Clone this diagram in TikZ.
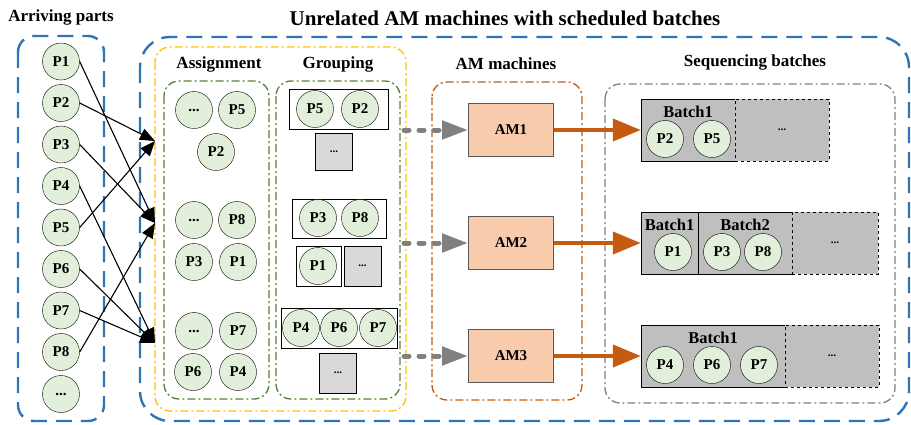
\documentclass[tikz,border=0pt]{standalone}
\usepackage{fontspec}
\setmainfont{Liberation Serif}
\usetikzlibrary{arrows.meta}
\definecolor{frameblue}{HTML}{2E75B6}
\definecolor{frameyellow}{HTML}{FFC000}
\definecolor{framegreen}{HTML}{548235}
\definecolor{frameorange}{HTML}{C55A11}
\definecolor{framegray}{HTML}{808080}
\definecolor{partfill}{HTML}{E2EFDA}
\definecolor{machinefill}{HTML}{F8CBAD}
\definecolor{batchfill}{HTML}{BFBFBF}
\definecolor{morefill}{HTML}{D9D9D9}
\tikzset{
  bluebox/.style={draw=frameblue,line width=2.4pt,dash pattern=on 16pt off 9pt,rounded corners=#1},
  dotbox/.style={draw=#1,line width=1.3pt,dash pattern=on 8pt off 3pt on 2pt off 3pt,rounded corners=15pt},
  part/.style={circle,draw,fill=partfill,minimum size=37pt,inner sep=0pt,font=\bfseries\fontsize{15}{15}\selectfont},
  morebox/.style={draw,fill=morefill,minimum size=37pt,inner sep=0pt,font=\bfseries\fontsize{11}{11}\selectfont},
  machine/.style={draw=black!65,line width=1pt,fill=machinefill,minimum width=85pt,minimum height=53pt,font=\bfseries\fontsize{15}{15}\selectfont},
  batchcell/.style={draw,fill=batchfill,minimum height=62pt,inner sep=0pt},
  batchmore/.style={batchcell,dashed,font=\bfseries\fontsize{11}{11}\selectfont},
  heading/.style={font=\bfseries\fontsize{17}{17}\selectfont},
  feed/.style={-{Triangle[length=15pt,width=12pt]},line width=1.1pt},
  handover/.style={-{Triangle[length=26pt,width=18pt]},line width=5pt,draw=framegray,dash pattern=on 5pt off 10pt,line cap=round},
  dispatch/.style={-{Triangle[length=28pt,width=22pt]},line width=4pt,draw=frameorange}
}
\begin{document}
\begin{tikzpicture}[x=1pt,y=-1pt]
\useasboundingbox (0,0) rectangle (911,424);
% frames
\draw[bluebox=16pt] (18,36) rectangle (104,421);
\draw[bluebox=30pt] (140,37) rectangle (909,421);
\draw[dotbox=frameyellow] (155,47) rectangle (406,411);
\draw[dotbox=framegreen] (164,81) rectangle (269,399);
\draw[dotbox=framegreen] (276,81) rectangle (400,399);
\draw[dotbox=frameorange] (432,82) rectangle (582,400);
\draw[dotbox=framegray] (605,84) rectangle (895,403);
% titles
\node[heading] (tarr) at (61,17) {Arriving parts};
\node[font=\bfseries\fontsize{21}{21}\selectfont] (tall) at (505,18) {Unrelated AM machines with scheduled batches};
\node[heading] (tasg) at (219,64) {Assignment};
\node[heading] (tgrp) at (338,64) {Grouping};
\node[heading] (tam) at (506,64) {AM machines};
\node[heading] (tseq) at (755,62) {Sequencing batches};
% arriving parts
\foreach \i in {1,...,8}
  \node[part] (p\i) at (61,20+41.5*\i) {P\i};
\node[part] (p9) at (61,394) {...};
\coordinate (t1) at (155,141);
\coordinate (t2) at (155,223);
\coordinate (t3) at (155,343);
\draw[feed] (p1.east) -- (t2);
\draw[feed] (p2.east) -- (t1);
\draw[feed] (p3.east) -- (t2);
\draw[feed] (p4.east) -- (t3);
\draw[feed] (p5.east) -- (t1);
\draw[feed] (p6.east) -- (t3);
\draw[feed] (p7.east) -- (t3);
\draw[feed] (p8.east) -- (t2);
% assignment
\node[part] (a1x) at (194,110) {...};
\node[part] (a1p5) at (237,110) {P5};
\node[part] (a1p2) at (216,152) {P2};
\node[part] (a2x) at (194,220) {...};
\node[part] (a2p8) at (237,220) {P8};
\node[part] (a2p3) at (194,262) {P3};
\node[part] (a2p1) at (238,262) {P1};
\node[part] (a3x) at (194,331) {...};
\node[part] (a3p7) at (238,331) {P7};
\node[part] (a3p6) at (193,372) {P6};
\node[part] (a3p4) at (238,372) {P4};
% grouping
\draw (289,89) rectangle (388,129);
\node[part] (g1p5) at (315,109) {P5};
\node[part] (g1p2) at (360,109) {P2};
\node[morebox] (g1x) at (334,152) {...};
\draw (292,199) rectangle (386,238);
\node[part] (g2p3) at (318,218) {P3};
\node[part] (g2p8) at (360,218) {P8};
\draw (296,246) rectangle (341,286);
\node[part] (g2p1) at (318,266) {P1};
\node[morebox,minimum height=40pt] (g2x) at (362.5,266) {...};
\draw (281,308) rectangle (397,348);
\node[part] (g3p4) at (301,328) {P4};
\node[part] (g3p6) at (339,328) {P6};
\node[part] (g3p7) at (378,328) {P7};
\node[morebox,minimum height=40pt] (g3x) at (338,373) {...};
% machines
\foreach \m/\y in {1/130,2/243,3/356} {
  \node[machine] (am\m) at (511,\y) {AM\m};
  \coordinate (y\m) at (404,\y);
  \draw[handover] (y\m) -- (am\m.west);
}
% batches
\node[batchcell,minimum width=94pt] (b1a) at (688,130) {};
\node[batchmore,minimum width=94pt] (b1x) at (782,130) {...};
\node[heading,font=\bfseries\fontsize{16.5}{16.5}\selectfont] (b1al) at (688,112) {Batch1};
\node[part] (b1p2) at (665,139) {P2};
\node[part] (b1p5) at (712,139) {P5};
\node[batchcell,minimum width=57pt] (b2a) at (669.5,243) {};
\node[batchcell,minimum width=94pt] (b2b) at (745,243) {};
\node[batchmore,minimum width=86pt] (b2x) at (835,243) {...};
\node[font=\bfseries\fontsize{16.5}{16.5}\selectfont] (b2al) at (669.5,225) {Batch1};
\node[font=\bfseries\fontsize{16.5}{16.5}\selectfont] (b2bl) at (745,225) {Batch2};
\node[part] (b2p1) at (673,252) {P1};
\node[part] (b2p3) at (722,252) {P3};
\node[part] (b2p8) at (763,252) {P8};
\node[batchcell,minimum width=144pt] (b3a) at (713,356) {};
\node[batchmore,minimum width=94pt] (b3x) at (832,356) {...};
\node[font=\bfseries\fontsize{16.5}{16.5}\selectfont] (b3al) at (713,338) {Batch1};
\node[part] (b3p4) at (665,365) {P4};
\node[part] (b3p6) at (712,365) {P6};
\node[part] (b3p7) at (759,365) {P7};
\draw[dispatch] (am1.east) -- (b1a.west);
\draw[dispatch] (am2.east) -- (b2a.west);
\draw[dispatch] (am3.east) -- (b3a.west);
\end{tikzpicture}
\end{document}
